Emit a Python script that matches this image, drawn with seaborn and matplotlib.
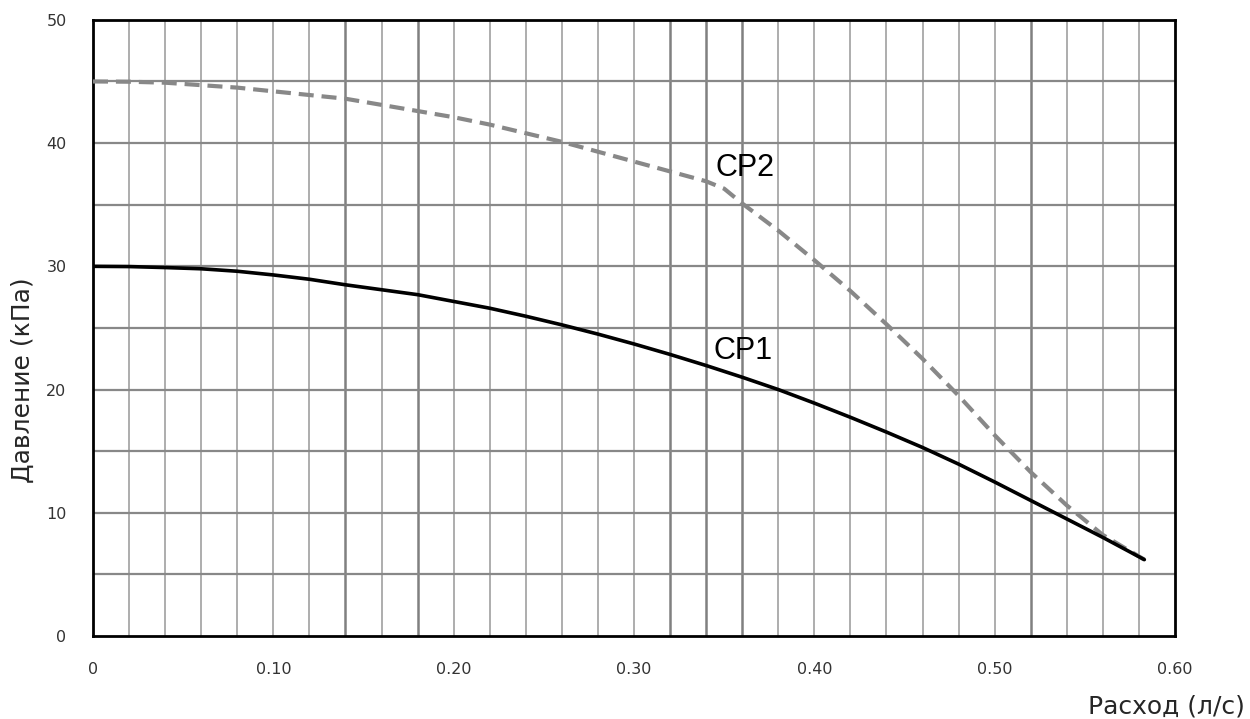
import numpy as np
import pandas as pd
import matplotlib.pyplot as plt
import seaborn as sns

# pump curves
flow = [0.0, 0.02, 0.04, 0.06, 0.08, 0.10, 0.12, 0.14, 0.16, 0.18, 0.20, 0.22, 0.24, 0.26,
        0.28, 0.30, 0.32, 0.34, 0.36, 0.38, 0.40, 0.42, 0.44, 0.46, 0.48, 0.50, 0.52, 0.54,
        0.56, 0.583]
press_cp1 = [30.0, 29.98, 29.9, 29.8, 29.6, 29.3, 28.95, 28.5, 28.1, 27.7, 27.15, 26.6, 25.95,
             25.25, 24.5, 23.7, 22.85, 21.95, 21.0, 20.0, 18.9, 17.75, 16.55, 15.3, 13.95,
             12.5, 11.0, 9.5, 8.0, 6.2]

flow_cp2 = [0.0, 0.02, 0.04, 0.06, 0.08, 0.10, 0.12, 0.14, 0.16, 0.18, 0.20, 0.22, 0.24, 0.26,
            0.28, 0.30, 0.32, 0.34, 0.35, 0.36, 0.38, 0.40, 0.42, 0.44, 0.46, 0.48, 0.50,
            0.52, 0.54, 0.56, 0.583]
press_cp2 = [45.0, 44.98, 44.9, 44.7, 44.5, 44.2, 43.9, 43.6, 43.1, 42.6, 42.1, 41.5, 40.8,
             40.1, 39.3, 38.5, 37.7, 36.9, 36.3, 35.1, 32.9, 30.5, 28.0, 25.3, 22.5, 19.5,
             16.3, 13.3, 10.6, 8.2, 6.2]

x_ticks = [0, 0.10, 0.20, 0.30, 0.40, 0.50, 0.60]
x_labels = ["0", "0.10", "0.20", "0.30", "0.40", "0.50", "0.60"]
y_ticks = [0, 10, 20, 30, 40, 50]

df1 = pd.DataFrame({"flow": flow, "pressure": press_cp1})
df2 = pd.DataFrame({"flow": flow_cp2, "pressure": press_cp2})

sns.set_style("white")
plt.rcParams['font.family'] = ['DejaVu Sans']

fig = plt.figure(figsize=(12.5, 7.19), dpi=100)
ax = fig.add_axes([0.0744, 0.1154, 0.8656, 0.857])

# grid: thin lines every 0.02 / 5, a few heavier ones like the original
heavy_x = [0.14, 0.18, 0.32, 0.34, 0.36, 0.52]
for i in range(1, 30):
    xv = round(i * 0.02, 2)
    if xv in heavy_x:
        ax.axvline(xv, color='#808080', lw=1.8, zorder=1)
    else:
        ax.axvline(xv, color='#a0a0a0', lw=1.2, zorder=1)
for yv in range(5, 50, 5):
    ax.axhline(yv, color='#888888', lw=1.6, zorder=1)

sns.lineplot(data=df2, x="flow", y="pressure", ax=ax, color='#888888',
             lw=3, linestyle=(0, (3.6, 1.9)), zorder=3)
sns.lineplot(data=df1, x="flow", y="pressure", ax=ax, color='black',
             lw=2.6, zorder=4)

ax.text(0.345, 37.3, "CP2", fontsize=22, family='Liberation Sans', color='black')
ax.text(0.344, 22.5, "CP1", fontsize=22, family='Liberation Sans', color='black')

ax.set_xlim(0, 0.60)
ax.set_ylim(0, 50)
ax.set_xticks(x_ticks)
ax.set_xticklabels(x_labels)
ax.set_yticks(y_ticks)
ax.set_yticks(range(5, 50, 10), minor=True)
ax.tick_params(axis='both', which='both', direction='out', length=5, width=1.5,
               color='#333333', labelsize=11.5, labelcolor='#333333')
ax.tick_params(axis='x', which='both', pad=14)
ax.tick_params(axis='y', which='both', pad=14)

for s in ax.spines.values():
    s.set_color('black')
    s.set_linewidth(2)

ax.set_xlabel("")
ax.set_ylabel("")
fig.text(0.0185, 0.4715, "Давление (кПа)", fontsize=18, rotation=90,
         ha='center', va='center')
fig.text(0.996, 0.008, "Расход (л/с)", fontsize=18, ha='right', va='baseline')

plt.savefig('out.png', dpi=100)
